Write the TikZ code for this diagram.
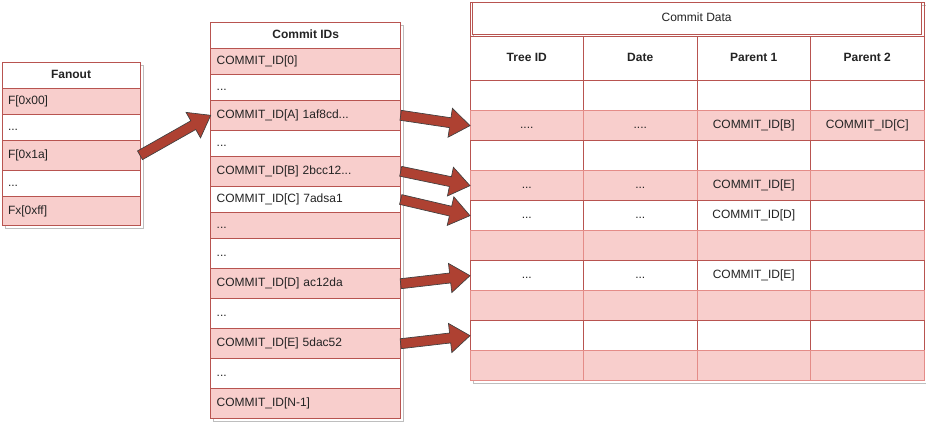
\documentclass[tikz,border=0pt]{standalone}
\usepackage{fontspec}
\setmainfont{Liberation Sans}
\usetikzlibrary{positioning,calc}
\definecolor{cdRed}{RGB}{184,84,80}
\definecolor{cdPink}{RGB}{248,206,204}
\definecolor{cdLine}{RGB}{228,140,136}
\definecolor{cdArrow}{RGB}{174,65,50}
\definecolor{cdShadow}{RGB}{190,190,190}
\definecolor{cdText}{RGB}{35,35,35}
\tikzset{
    base/.style={font=\fontsize{9}{10.8}\selectfont, text=cdText, inner sep=0pt, outer sep=0pt,
                 text height=6.6pt, text depth=1.9pt},
    cell/.style={base, rectangle, draw=cdRed, line width=0.75pt, fill=white},
    pinkfill/.style={fill=cdPink},
    headcell/.style={cell, font=\fontsize{9}{10.8}\selectfont\bfseries},
    fanrow/.style={cell, text width=94.5pt, inner xsep=4.5pt, align=left, minimum height=#1},
    idrow/.style={cell, text width=133.5pt, inner xsep=4.5pt, align=left, minimum height=#1},
    datwhite/.style={cell, minimum width=85.125pt, minimum height=22.5pt},
    datpink/.style={datwhite, fill=cdPink, draw=cdLine},
    datheader/.style={headcell, minimum width=85.125pt, minimum height=33.5pt},
    shadowline/.style={draw=cdShadow, line width=0.75pt},
    fatarrowstyle/.style={fill=cdArrow, draw=black!75, line width=0.5pt, line join=miter}
}
% block arrow from #1 to #2
\newcommand{\fatarrow}[2]{%
  \filldraw[fatarrowstyle] ($(#1)!3.75pt!90:(#2)$)
    -- ($(#2)!15pt!(#1)!3.75pt!270:(#1)$) -- ($(#2)!15pt!(#1)!11pt!270:(#1)$)
    -- (#2)
    -- ($(#2)!15pt!(#1)!11pt!90:(#1)$) -- ($(#2)!15pt!(#1)!3.75pt!90:(#1)$)
    -- ($(#1)!3.75pt!270:(#2)$) -- cycle;}

\begin{document}
\begin{tikzpicture}[x=0.75pt, y=-0.75pt]
  \useasboundingbox (0,0) rectangle (926,422);

  % Shadows
  \draw[shadowline] (5,65.3) rectangle (143,228.7);
  \draw[shadowline] (213.7,25.3) rectangle (403.7,421.5);
  \draw[shadowline] (473,5.7) rectangle (927,383.7);

  % Fanout table
  \node[headcell, minimum width=103.5pt, minimum height=19.5pt, anchor=north west] (fanHead) at (2,62.3) {Fanout};
  \node[fanrow=19.5pt, pinkfill, below=0pt of fanHead] (fan00) {F[0x00]};
  \node[fanrow=19.5pt, below=0pt of fan00] (fanDotsA) {...};
  \node[fanrow=22.5pt, pinkfill, below=0pt of fanDotsA] (fan1a) {F[0x1a]};
  \node[fanrow=19.5pt, below=0pt of fan1a] (fanDotsB) {...};
  \node[fanrow=22pt, pinkfill, below=0pt of fanDotsB] (fanff) {Fx[0xff]};

  % Commit IDs table
  \node[headcell, minimum width=142.5pt, minimum height=19.5pt, anchor=north west] (idHead) at (210.7,22.3) {Commit IDs};
  \node[idrow=19.5pt, pinkfill, below=0pt of idHead] (id0) {COMMIT\_ID[0]};
  \node[idrow=19.5pt, below=0pt of id0] (idDotsA) {...};
  \node[idrow=22.5pt, pinkfill, below=0pt of idDotsA] (idA) {COMMIT\_ID[A] 1af8cd...};
  \node[idrow=19.5pt, below=0pt of idA] (idDotsB) {...};
  \node[idrow=22.5pt, pinkfill, below=0pt of idDotsB] (idB) {COMMIT\_ID[B] 2bcc12...};
  \node[idrow=19.8pt, below=0pt of idB] (idC) {COMMIT\_ID[C] 7adsa1};
  \node[idrow=19.5pt, pinkfill, below=0pt of idC] (idDotsC) {...};
  \node[idrow=22.5pt, below=0pt of idDotsC] (idDotsD) {...};
  \node[idrow=22.5pt, pinkfill, below=0pt of idDotsD] (idD) {COMMIT\_ID[D] ac12da};
  \node[idrow=22.5pt, below=0pt of idD] (idDotsE) {...};
  \node[idrow=22.5pt, pinkfill, below=0pt of idDotsE] (idE) {COMMIT\_ID[E] 5dac52};
  \node[idrow=22.5pt, below=0pt of idE] (idDotsF) {...};
  \node[idrow=22.5pt, pinkfill, below=0pt of idDotsF] (idLast) {COMMIT\_ID[N-1]};

  % Commit Data table
  \draw[cdRed, line width=0.75pt] (470,2.7) rectangle (924,380.7);
  \node[cell, minimum width=337pt, minimum height=23.5pt, anchor=north west] (dataTitle) at (472,2.7) {Commit Data};
  \node[datheader, anchor=north west] (hTree) at (470,36) {Tree ID};
  \node[datheader, right=0pt of hTree] (hDate) {Date};
  \node[datheader, right=0pt of hDate] (hParA) {Parent 1};
  \node[datheader, right=0pt of hParA] (hParB) {Parent 2};

  \node[datwhite, below=0pt of hTree] (r1a) {};
  \node[datwhite, right=0pt of r1a] (r1b) {};
  \node[datwhite, right=0pt of r1b] (r1c) {};
  \node[datwhite, right=0pt of r1c] (r1d) {};

  \node[datpink, below=0pt of r1a] (r2a) {....};
  \node[datpink, right=0pt of r2a] (r2b) {....};
  \node[datpink, right=0pt of r2b] (r2c) {COMMIT\_ID[B]};
  \node[datpink, right=0pt of r2c] (r2d) {COMMIT\_ID[C]};

  \node[datwhite, below=0pt of r2a] (r3a) {};
  \node[datwhite, right=0pt of r3a] (r3b) {};
  \node[datwhite, right=0pt of r3b] (r3c) {};
  \node[datwhite, right=0pt of r3c] (r3d) {};

  \node[datpink, below=0pt of r3a] (r4a) {...};
  \node[datpink, right=0pt of r4a] (r4b) {...};
  \node[datpink, right=0pt of r4b] (r4c) {COMMIT\_ID[E]};
  \node[datpink, right=0pt of r4c] (r4d) {};

  \node[datwhite, below=0pt of r4a] (r5a) {...};
  \node[datwhite, right=0pt of r5a] (r5b) {...};
  \node[datwhite, right=0pt of r5b] (r5c) {COMMIT\_ID[D]};
  \node[datwhite, right=0pt of r5c] (r5d) {};

  \node[datpink, below=0pt of r5a] (r6a) {};
  \node[datpink, right=0pt of r6a] (r6b) {};
  \node[datpink, right=0pt of r6b] (r6c) {};
  \node[datpink, right=0pt of r6c] (r6d) {};

  \node[datwhite, below=0pt of r6a] (r7a) {...};
  \node[datwhite, right=0pt of r7a] (r7b) {...};
  \node[datwhite, right=0pt of r7b] (r7c) {COMMIT\_ID[E]};
  \node[datwhite, right=0pt of r7c] (r7d) {};

  \node[datpink, below=0pt of r7a] (r8a) {};
  \node[datpink, right=0pt of r8a] (r8b) {};
  \node[datpink, right=0pt of r8b] (r8c) {};
  \node[datpink, right=0pt of r8c] (r8d) {};

  \node[datwhite, below=0pt of r8a] (r9a) {};
  \node[datwhite, right=0pt of r9a] (r9b) {};
  \node[datwhite, right=0pt of r9b] (r9c) {};
  \node[datwhite, right=0pt of r9c] (r9d) {};

  \node[datpink, below=0pt of r9a] (r10a) {};
  \node[datpink, right=0pt of r10a] (r10b) {};
  \node[datpink, right=0pt of r10b] (r10c) {};
  \node[datpink, right=0pt of r10c] (r10d) {};

  % Lookup arrows
  \fatarrow{fan1a.east}{idA.west}
  \fatarrow{idA.east}{r2a.west}
  \fatarrow{idB.east}{r4a.west}
  \fatarrow{idC.east}{r5a.west}
  \fatarrow{idD.east}{r7a.west}
  \fatarrow{idE.east}{r9a.west}
\end{tikzpicture}
\end{document}
